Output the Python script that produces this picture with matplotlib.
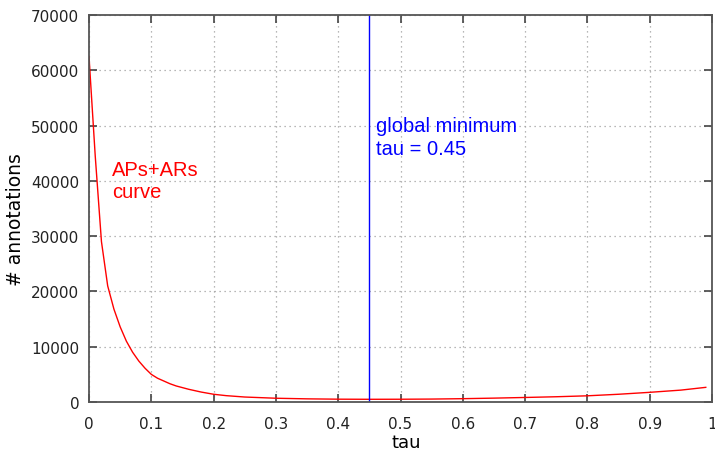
import matplotlib
matplotlib.use("Agg")
import matplotlib.pyplot as plt
from matplotlib.ticker import MultipleLocator, FuncFormatter

tau = [0.00, 0.01, 0.02, 0.03, 0.04, 0.05, 0.06, 0.07, 0.08, 0.09, 0.10,
       0.11, 0.12, 0.13, 0.14, 0.15, 0.16, 0.18, 0.20, 0.22, 0.25, 0.30,
       0.35, 0.40, 0.45, 0.50, 0.55, 0.60, 0.65, 0.70, 0.75, 0.80, 0.85,
       0.90, 0.95, 0.99]
annotations = [62500, 44500, 29000, 21000, 16800, 13600, 11000, 9000, 7400, 6100, 5000,
               4300, 3800, 3300, 2900, 2600, 2300, 1800, 1400, 1150, 900, 680,
               570, 510, 490, 500, 530, 600, 700, 820, 950, 1120, 1400,
               1750, 2150, 2650]
min_tau = 0.45

plt.rcParams['font.family'] = ['DejaVu Sans']
fig = plt.figure(figsize=(7.15, 4.52), dpi=100)
ax = fig.add_axes([89/715, 1-403/452, 623/715, 387/452])

ax.plot(tau, annotations, color='red', lw=1.0)
ax.axvline(min_tau, color='blue', lw=1.0)

ax.set_xlim(0, 1)
ax.set_ylim(0, 70000)
ax.xaxis.set_major_locator(MultipleLocator(0.1))
ax.yaxis.set_major_locator(MultipleLocator(10000))
ax.xaxis.set_major_formatter(FuncFormatter(lambda v, p: f"{v:g}"))
ax.yaxis.set_major_formatter(FuncFormatter(lambda v, p: f"{int(round(v))}"))
ax.grid(True, color='#a0a0a0', linestyle=(0, (1, 3)), lw=0.9)
ax.tick_params(direction='in', top=True, right=True, length=6, width=1.2,
               color='#444444', labelsize=11, labelcolor='#222222')
ax.tick_params(axis='x', pad=10)
ax.tick_params(axis='y', pad=7)
for s in ax.spines.values():
    s.set_color('#555555')
    s.set_linewidth(1.3)

ax.set_xlabel('tau', fontsize=13)
ax.set_ylabel('# annotations', fontsize=13.5)
ax.xaxis.set_label_coords(0.509, -0.080)
ax.yaxis.set_label_coords(-0.102, 0.473)

ann_font = ['Liberation Sans', 'DejaVu Sans']
ax.text(0.460, 49000, 'global minimum', color='blue', fontsize=14.5,
        va='baseline', ha='left', family=ann_font)
ax.text(0.460, 44800, 'tau = 0.45', color='blue', fontsize=14.5,
        va='baseline', ha='left', family=ann_font)
ax.text(0.037, 41000, 'APs+ARs', color='red', fontsize=14.5,
        va='baseline', ha='left', family=ann_font)
ax.text(0.037, 37000, 'curve', color='red', fontsize=14.5,
        va='baseline', ha='left', family=ann_font)

fig.savefig('out.png', dpi=100)
